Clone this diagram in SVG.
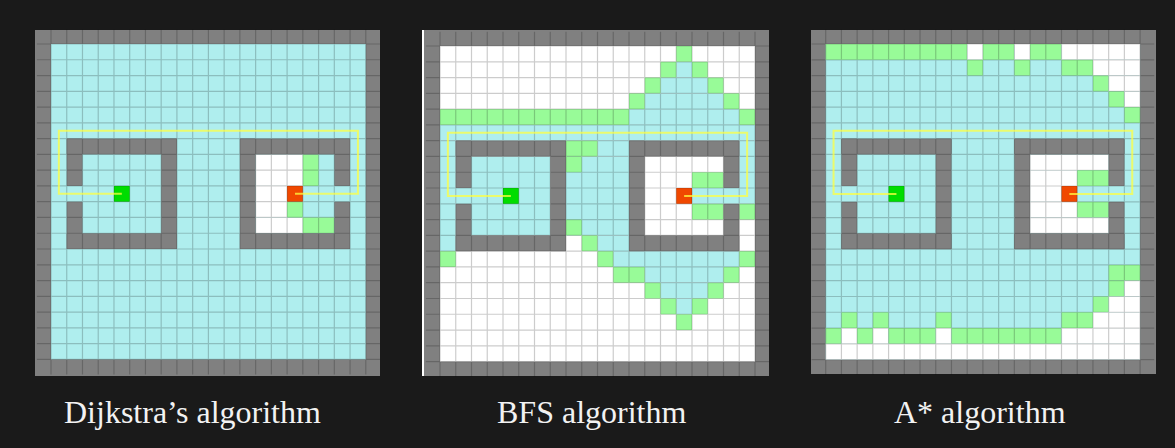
<svg xmlns="http://www.w3.org/2000/svg" xmlns:xlink="http://www.w3.org/1999/xlink" width="1175" height="448" viewBox="0 0 1175 448">
<style>
.c{fill:#afeeee}
.g{fill:#98fb98}
.w{fill:#ffffff}
.k{fill:#808080}
.s{fill:#00dd00}
.e{fill:#f04800}
.grid{fill:none;stroke:#000;stroke-opacity:0.2;stroke-width:1.2}
.path{fill:none;stroke:#ffff40;stroke-opacity:0.75;stroke-width:2}
.lbl{font-family:"Liberation Serif","Times New Roman",serif;font-size:32px;fill:#f2f2f2}
</style>
<defs>
<g id="walls">
<rect class="k" x="2" y="7" width="7" height="1"/>
<rect class="k" x="2" y="13" width="7" height="1"/>
<rect class="k" x="8" y="7" width="1" height="7"/>
<rect class="k" x="2" y="7" width="1" height="3"/>
<rect class="k" x="2" y="11" width="1" height="3"/>
<rect class="k" x="13" y="7" width="7" height="1"/>
<rect class="k" x="13" y="13" width="7" height="1"/>
<rect class="k" x="13" y="7" width="1" height="7"/>
<rect class="k" x="19" y="7" width="1" height="3"/>
<rect class="k" x="19" y="11" width="1" height="3"/>
</g>
<g id="endpoints">
<rect class="s" x="5" y="10" width="1" height="1"/>
<rect class="e" x="16" y="10" width="1" height="1"/>
</g>
<path id="grid" class="grid" vector-effect="non-scaling-stroke" d="M1 .1V21.95M2 .1V21.95M3 .1V21.95M4 .1V21.95M5 .1V21.95M6 .1V21.95M7 .1V21.95M8 .1V21.95M9 .1V21.95M10 .1V21.95M11 .1V21.95M12 .1V21.95M13 .1V21.95M14 .1V21.95M15 .1V21.95M16 .1V21.95M17 .1V21.95M18 .1V21.95M19 .1V21.95M20 .1V21.95M21 .1V21.95M.1 1H21.9M.1 2H21.9M.1 3H21.9M.1 4H21.9M.1 5H21.9M.1 6H21.9M.1 7H21.9M.1 8H21.9M.1 9H21.9M.1 10H21.9M.1 11H21.9M.1 12H21.9M.1 13H21.9M.1 14H21.9M.1 15H21.9M.1 16H21.9M.1 17H21.9M.1 18H21.9M.1 19H21.9M.1 20H21.9M.1 21H21.9"/>
<path id="route" class="path" vector-effect="non-scaling-stroke" d="M5.5 10.5H1.5V6.5H20.5V10.5H16.5"/>
</defs>
<rect x="0" y="0" width="1175" height="448" fill="#1a1a1a"/>

<g id="panel-dijkstra">
<rect class="k" x="35" y="30" width="345" height="346"/>
<g transform="translate(35.26,28.23) scale(15.74,15.77)">
<rect class="c" x="1" y="1" width="20" height="20"/>
<rect class="w" x="14" y="8" width="3" height="2"/>
<rect class="w" x="14" y="10" width="2" height="2"/>
<rect class="w" x="14" y="12" width="3" height="1"/>
<rect class="g" x="17" y="8" width="1" height="2"/>
<rect class="g" x="16" y="11" width="1" height="1"/>
<rect class="g" x="17" y="12" width="2" height="1"/>
<use xlink:href="#walls"/>
<use xlink:href="#endpoints"/>
<use xlink:href="#grid"/>
<use xlink:href="#route"/>
</g>
</g>

<g id="panel-bfs">
<rect x="422" y="30" width="2.5" height="346" fill="#ffffff"/>
<rect class="k" x="424" y="30" width="345" height="346"/>
<g transform="translate(424.25,30.22) scale(15.75,15.78)">
<rect class="w" x="1" y="1" width="20" height="20"/>
<rect class="c" x="16" y="2" width="1" height="1"/>
<rect class="c" x="15" y="3" width="3" height="1"/>
<rect class="c" x="14" y="4" width="5" height="1"/>
<rect class="c" x="13" y="5" width="7" height="1"/>
<rect class="c" x="1" y="6" width="20" height="1"/>
<rect class="c" x="1" y="7" width="1" height="7"/>
<rect class="c" x="2" y="8" width="6" height="5"/>
<rect class="c" x="9" y="8" width="4" height="5"/>
<rect class="c" x="11" y="7" width="2" height="1"/>
<rect class="c" x="11" y="13" width="2" height="1"/>
<rect class="c" x="20" y="7" width="1" height="4"/>
<rect class="c" x="17" y="10" width="3" height="1"/>
<rect class="c" x="12" y="14" width="8" height="1"/>
<rect class="c" x="14" y="15" width="5" height="1"/>
<rect class="c" x="15" y="16" width="3" height="1"/>
<rect class="c" x="16" y="17" width="1" height="1"/>
<rect class="g" x="16" y="1" width="1" height="1"/>
<rect class="g" x="15" y="2" width="1" height="1"/>
<rect class="g" x="17" y="2" width="1" height="1"/>
<rect class="g" x="14" y="3" width="1" height="1"/>
<rect class="g" x="18" y="3" width="1" height="1"/>
<rect class="g" x="13" y="4" width="1" height="1"/>
<rect class="g" x="19" y="4" width="1" height="1"/>
<rect class="g" x="1" y="5" width="12" height="1"/>
<rect class="g" x="20" y="5" width="1" height="1"/>
<rect class="g" x="9" y="7" width="2" height="1"/>
<rect class="g" x="9" y="8" width="1" height="1"/>
<rect class="g" x="17" y="9" width="2" height="1"/>
<rect class="g" x="17" y="11" width="2" height="1"/>
<rect class="g" x="20" y="11" width="1" height="1"/>
<rect class="g" x="9" y="12" width="1" height="1"/>
<rect class="g" x="10" y="13" width="1" height="1"/>
<rect class="g" x="1" y="14" width="1" height="1"/>
<rect class="g" x="11" y="14" width="1" height="1"/>
<rect class="g" x="20" y="14" width="1" height="1"/>
<rect class="g" x="12" y="15" width="2" height="1"/>
<rect class="g" x="19" y="15" width="1" height="1"/>
<rect class="g" x="14" y="16" width="1" height="1"/>
<rect class="g" x="18" y="16" width="1" height="1"/>
<rect class="g" x="15" y="17" width="1" height="1"/>
<rect class="g" x="17" y="17" width="1" height="1"/>
<rect class="g" x="16" y="18" width="1" height="1"/>
<use xlink:href="#walls"/>
<use xlink:href="#endpoints"/>
<use xlink:href="#grid"/>
<use xlink:href="#route"/>
</g>
</g>

<g id="panel-astar">
<rect class="k" x="811" y="30" width="345" height="344"/>
<g transform="translate(809.98,28.22) scale(15.72,15.78)">
<rect class="c" x="1" y="1" width="20" height="20"/>
<rect class="g" x="1" y="1" width="9" height="1"/>
<rect class="w" x="10" y="1" width="1" height="1"/>
<rect class="g" x="11" y="1" width="2" height="1"/>
<rect class="w" x="13" y="1" width="1" height="1"/>
<rect class="g" x="14" y="1" width="2" height="1"/>
<rect class="w" x="16" y="1" width="5" height="1"/>
<rect class="g" x="10" y="2" width="1" height="1"/>
<rect class="g" x="13" y="2" width="1" height="1"/>
<rect class="g" x="16" y="2" width="2" height="1"/>
<rect class="w" x="18" y="2" width="3" height="1"/>
<rect class="g" x="18" y="3" width="1" height="1"/>
<rect class="w" x="19" y="3" width="2" height="1"/>
<rect class="g" x="19" y="4" width="1" height="1"/>
<rect class="w" x="20" y="4" width="1" height="1"/>
<rect class="g" x="20" y="5" width="1" height="1"/>
<rect class="w" x="14" y="8" width="5" height="1"/>
<rect class="w" x="14" y="9" width="3" height="1"/>
<rect class="g" x="17" y="9" width="2" height="1"/>
<rect class="w" x="14" y="10" width="2" height="1"/>
<rect class="w" x="14" y="11" width="3" height="1"/>
<rect class="g" x="17" y="11" width="2" height="1"/>
<rect class="w" x="14" y="12" width="5" height="1"/>
<rect class="g" x="19" y="15" width="2" height="1"/>
<rect class="g" x="19" y="16" width="1" height="1"/>
<rect class="w" x="20" y="16" width="1" height="1"/>
<rect class="g" x="18" y="17" width="1" height="1"/>
<rect class="w" x="19" y="17" width="2" height="1"/>
<rect class="g" x="2" y="18" width="1" height="1"/>
<rect class="g" x="4" y="18" width="1" height="1"/>
<rect class="g" x="8" y="18" width="1" height="1"/>
<rect class="g" x="16" y="18" width="2" height="1"/>
<rect class="w" x="18" y="18" width="3" height="1"/>
<rect class="g" x="1" y="19" width="1" height="1"/>
<rect class="w" x="2" y="19" width="1" height="1"/>
<rect class="g" x="3" y="19" width="1" height="1"/>
<rect class="w" x="4" y="19" width="1" height="1"/>
<rect class="g" x="5" y="19" width="3" height="1"/>
<rect class="w" x="8" y="19" width="1" height="1"/>
<rect class="g" x="9" y="19" width="7" height="1"/>
<rect class="w" x="16" y="19" width="5" height="1"/>
<rect class="w" x="1" y="20" width="20" height="1"/>
<use xlink:href="#walls"/>
<use xlink:href="#endpoints"/>
<use xlink:href="#grid"/>
<use xlink:href="#route"/>
</g>
</g>

<g id="labels">
<text class="lbl" x="64" y="423">Dijkstra’s algorithm</text>
<text class="lbl" x="497" y="423">BFS algorithm</text>
<text class="lbl" x="894" y="423">A* algorithm</text>
</g>
</svg>
